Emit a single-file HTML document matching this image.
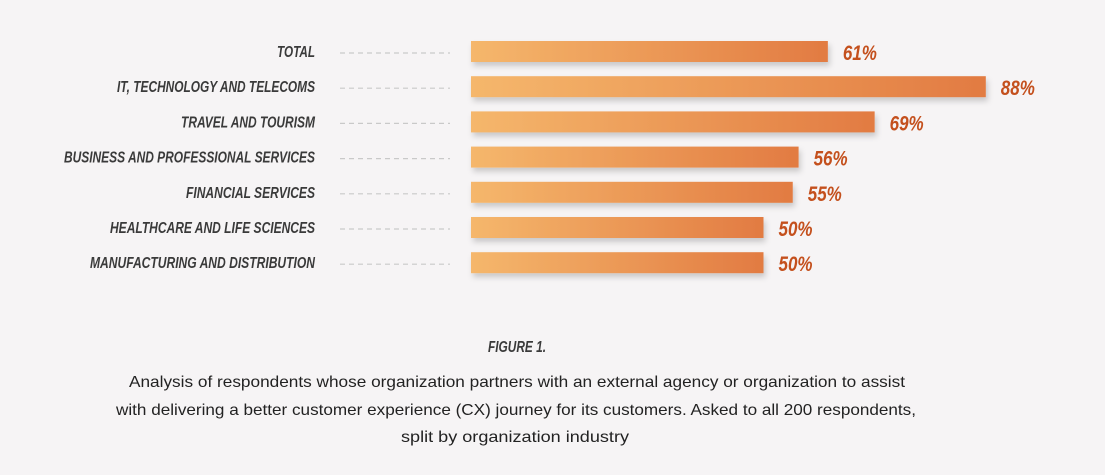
<!DOCTYPE html>
<html><head><meta charset="utf-8"><style>
html,body{margin:0;padding:0;background:#f6f4f5;}
svg{display:block;}
.lbl{font-family:"Liberation Sans",sans-serif;font-weight:bold;font-style:italic;font-size:16px;fill:#3a3a3a;}
.val{font-family:"Liberation Sans",sans-serif;font-weight:bold;font-style:italic;font-size:21px;fill:#c4501d;}
.cap{font-family:"Liberation Sans",sans-serif;font-size:16px;fill:#222;}
</style></head><body>
<svg id="chart" width="1105" height="475" viewBox="0 0 1105 475">
<defs>
<linearGradient id="g" x1="0" x2="1" y1="0" y2="0"><stop offset="0" stop-color="#f5b76c"/><stop offset="1" stop-color="#e27b42"/></linearGradient>
<filter id="sh" x="-5%" y="-50%" width="110%" height="220%"><feDropShadow dx="2" dy="4" stdDeviation="3" flood-color="#000" flood-opacity="0.18"/></filter>
</defs>
<g id="bars"></g>
<text class="lbl" x="517" y="352" text-anchor="middle" textLength="58" lengthAdjust="spacingAndGlyphs">FIGURE 1.</text>
<text class="cap" x="517" y="387" text-anchor="middle" textLength="776" lengthAdjust="spacingAndGlyphs">Analysis of respondents whose organization partners with an external agency or organization to assist</text>
<text class="cap" x="516" y="415" text-anchor="middle" textLength="800" lengthAdjust="spacingAndGlyphs">with delivering a better customer experience (CX) journey for its customers. Asked to all 200 respondents,</text>
<text class="cap" x="515" y="442" text-anchor="middle" textLength="228" lengthAdjust="spacingAndGlyphs">split by organization industry</text>
</svg>
<script>
const categories = ["TOTAL","IT, TECHNOLOGY AND TELECOMS","TRAVEL AND TOURISM","BUSINESS AND PROFESSIONAL SERVICES","FINANCIAL SERVICES","HEALTHCARE AND LIFE SCIENCES","MANUFACTURING AND DISTRIBUTION"];
const values = [61,88,69,56,55,50,50];
const valueLabels = ["61%","88%","69%","56%","55%","50%","50%"];

const NS="http://www.w3.org/2000/svg";
const g=document.getElementById('bars');
const x0=471, pxPer=5.85, y0=41, pitch=35.2, bh=21;
function xScale(v){return x0+v*pxPer;}
function yScale(i){return y0+i*pitch;}
const labelW=[38,198,134,251,129,205,225];
categories.forEach((c,i)=>{
  const y=yScale(i);
  const t=document.createElementNS(NS,'text');
  
  
  t.setAttribute('class','lbl');
  t.setAttribute('x',315);t.setAttribute('y',y+16);
  t.setAttribute('text-anchor','end');
  t.setAttribute('textLength',labelW[i]);t.setAttribute('lengthAdjust','spacingAndGlyphs');
  t.textContent=c;g.appendChild(t);
  const l=document.createElementNS(NS,'line');
  
  
  l.setAttribute('x1',340);l.setAttribute('x2',450);l.setAttribute('y1',y+12);l.setAttribute('y2',y+12);
  l.setAttribute('stroke','#c9c9c9');l.setAttribute('stroke-width','1.2');l.setAttribute('stroke-dasharray','5 4');
  g.appendChild(l);
  const r=document.createElementNS(NS,'rect');
  
  
  r.setAttribute('x',x0);r.setAttribute('y',y);r.setAttribute('width',xScale(values[i])-x0);r.setAttribute('height',bh);
  r.setAttribute('fill','url(#g)');r.setAttribute('filter','url(#sh)');
  g.appendChild(r);
  const v=document.createElementNS(NS,'text');
  
  
  v.setAttribute('class','val');
  v.setAttribute('x',xScale(values[i])+15);v.setAttribute('y',y+19);
  v.setAttribute('textLength',34);v.setAttribute('lengthAdjust','spacingAndGlyphs');
  v.textContent=valueLabels[i];g.appendChild(v);
});
</script>
</body></html>
